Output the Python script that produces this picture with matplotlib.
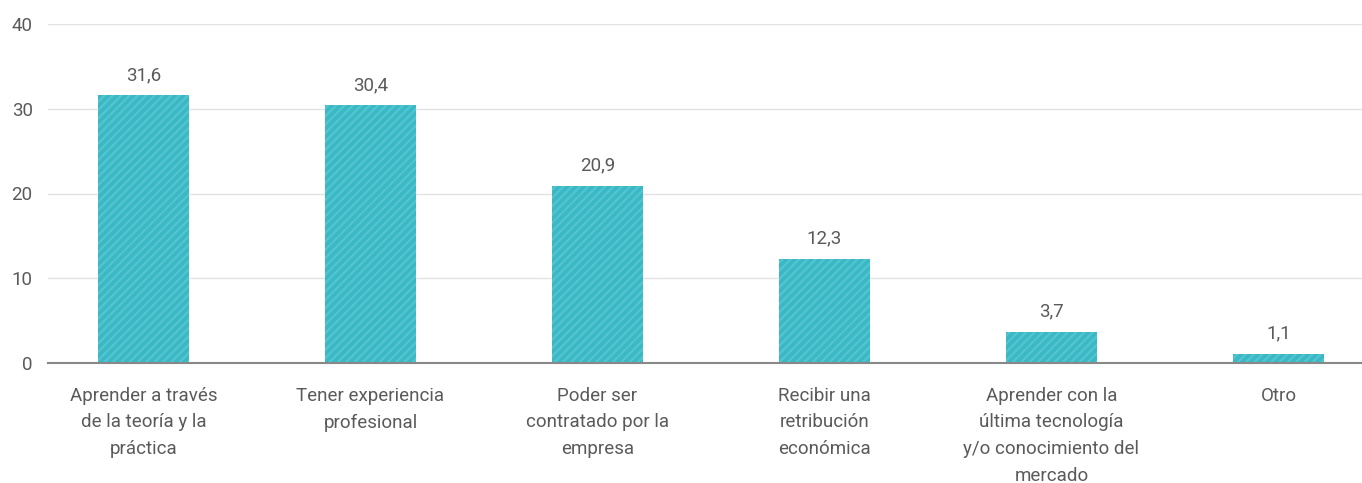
import matplotlib
matplotlib.use("Agg")
import matplotlib.pyplot as plt

categories = [
    "Aprender a través\nde la teoría y la\npráctica",
    "Tener experiencia\nprofesional",
    "Poder ser\ncontratado por la\nempresa",
    "Recibir una\nretribución\neconómica",
    "Aprender con la\núltima tecnología\ny/o conocimiento del\nmercado",
    "Otro",
]
values = [31.6, 30.4, 20.9, 12.3, 3.7, 1.1]
yticks = [0, 10, 20, 30, 40]

plt.rcParams['font.family'] = ['Roboto', 'DejaVu Sans']
plt.rcParams['hatch.color'] = '#55c4ce'
plt.rcParams['hatch.linewidth'] = 1.6

W, H = 1362, 483
FS = 13.5
TXT = '#5a5a5a'
fig = plt.figure(figsize=(W / 100, H / 100), dpi=100)
ax = fig.add_axes([48 / W, (H - 363) / H, (1362 - 48) / W, (363 - 24) / H])

x = list(range(len(values)))
bars = ax.bar(x, values, width=0.40, color='#39b9c5', edgecolor='#55c4ce',
              linewidth=0, hatch='////', zorder=3)

for xi, v in zip(x, values):
    ax.text(xi, v + 1.3, f"{v:.1f}".replace('.', ','), ha='center', va='bottom',
            fontsize=FS, color=TXT)

ax.set_ylim(0, 40)
ax.set_xlim(-0.4207, 5.368)
ax.set_yticks(yticks)
ax.set_yticklabels([str(t) for t in yticks], fontsize=FS, color=TXT)
ax.set_xticks(x)
ax.set_xticklabels(categories, fontsize=FS, color=TXT, linespacing=1.63, va='top')
ax.tick_params(axis='x', length=0, pad=17)
ax.tick_params(axis='y', length=0, pad=11)

ax.grid(axis='y', color='#e3e3e3', linewidth=1, zorder=0)
for s in ['top', 'right', 'left']:
    ax.spines[s].set_visible(False)
ax.spines['bottom'].set_color('#888888')
ax.spines['bottom'].set_linewidth(1.5)
ax.spines['bottom'].set_zorder(4)

fig.savefig("out.png", dpi=100)
